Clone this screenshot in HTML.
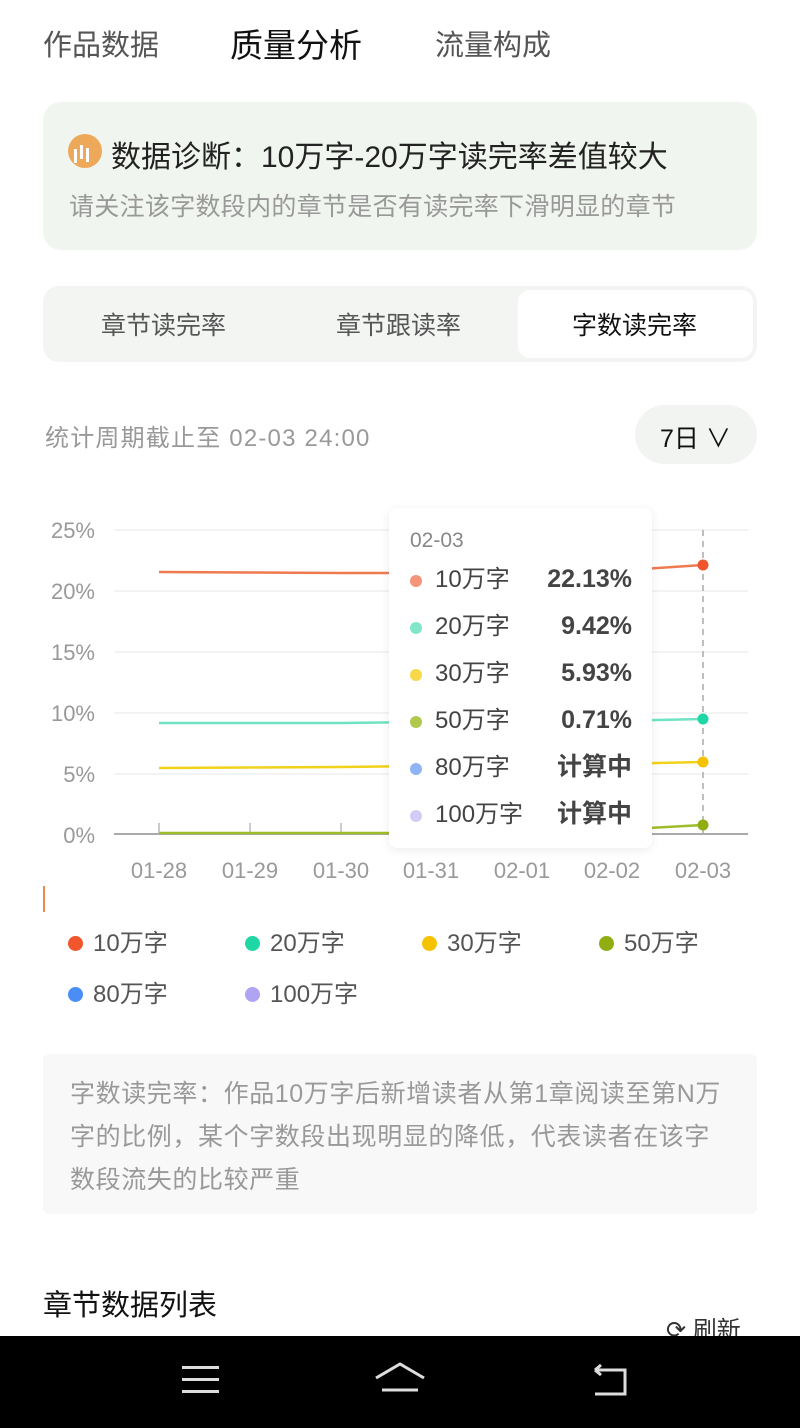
<!DOCTYPE html>
<html><head><meta charset="utf-8"><style>
*{margin:0;padding:0;box-sizing:border-box}
body{width:800px;height:1428px;background:#fff;position:relative;overflow:hidden;font-family:"Liberation Sans","Noto Sans CJK SC",sans-serif}
.a{position:absolute;white-space:nowrap}
</style></head><body>
<div class="a" style="left:43px;top:22px;font-size:29px;color:#555">作品数据</div>
<div class="a" style="left:230px;top:19px;font-size:33px;color:#111">质量分析</div>
<div class="a" style="left:435px;top:22px;font-size:29px;color:#555">流量构成</div>

<div class="a" style="left:43px;top:102px;width:714px;height:148px;background:#f1f5ef;border-radius:18px"></div>
<div class="a" style="left:68px;top:134px;width:34px;height:34px;border-radius:50%;background:#eea85a"></div>
<div class="a" style="left:80px;top:145px;width:3px;height:14px;background:#fff;box-shadow:6px 3px 0 #fff,-6px 4px 0 #fff;"></div>
<div class="a" style="left:111px;top:132px;font-size:30px;color:#222">数据诊断：10万字-20万字读完率差值较大</div>
<div class="a" style="left:69px;top:187px;font-size:25px;letter-spacing:0.3px;color:#999">请关注该字数段内的章节是否有读完率下滑明显的章节</div>

<div class="a" style="left:43px;top:286px;width:714px;height:76px;background:#f3f5f3;border-radius:16px"></div>
<div class="a" style="left:518px;top:290px;width:235px;height:68px;background:#fff;border-radius:12px"></div>
<div class="a" style="left:101px;top:306px;font-size:25px;color:#555">章节读完率</div>
<div class="a" style="left:336px;top:306px;font-size:25px;color:#555">章节跟读率</div>
<div class="a" style="left:572px;top:306px;font-size:25px;color:#111">字数读完率</div>

<div class="a" style="left:45px;top:418px;font-size:24px;letter-spacing:1.2px;color:#999">统计周期截止至 02-03 24:00</div>
<div class="a" style="left:635px;top:405px;width:122px;height:59px;background:#f2f4f2;border-radius:30px"></div>
<div class="a" style="left:660px;top:419px;font-size:25px;color:#111">7日 ∨</div>

<svg class="a" style="left:0;top:500px" width="800" height="400">
<g font-family="Liberation Sans" font-size="22" fill="#999" text-anchor="end">
<text x="95" y="38">25%</text><text x="95" y="99">20%</text><text x="95" y="160">15%</text><text x="95" y="221">10%</text><text x="95" y="282">5%</text><text x="95" y="343">0%</text></g>
<g stroke="#efefef" stroke-width="1.5"><line x1="114" x2="748" y1="30" y2="30"/><line x1="114" x2="748" y1="91" y2="91"/><line x1="114" x2="748" y1="152" y2="152"/><line x1="114" x2="748" y1="213" y2="213"/><line x1="114" x2="748" y1="274" y2="274"/></g>
<line x1="114" x2="748" y1="334" y2="334" stroke="#aaa" stroke-width="2"/>
<g stroke="#bbb" stroke-width="1.5"><line x1="159" x2="159" y1="323" y2="334"/><line x1="250" x2="250" y1="323" y2="334"/><line x1="341" x2="341" y1="323" y2="334"/></g>
<line x1="703" x2="703" y1="30" y2="334" stroke="#aaa" stroke-dasharray="6,5" stroke-width="1.5"/>
<polyline points="159,72 250,72.5 341,73 431,73 522,72 612,71 703,65" fill="none" stroke="#ef7a50" stroke-width="2.5"/>
<polyline points="159,223 250,223 341,223 431,222 522,222 612,221 703,219" fill="none" stroke="#6fe3c3" stroke-width="2.5"/>
<polyline points="159,268 250,267.5 341,267 431,266 522,265 612,264 703,262" fill="none" stroke="#f1d21a" stroke-width="2.5"/>
<polyline points="159,333 250,333 341,333 431,333 522,332 612,330 703,325" fill="none" stroke="#9dbd2a" stroke-width="2.5"/>
<circle cx="703" cy="65" r="5.5" fill="#f0552c"/><circle cx="703" cy="219" r="5.5" fill="#1fd6a5"/><circle cx="703" cy="262" r="5.5" fill="#f5c200"/><circle cx="703" cy="325" r="5.5" fill="#8fae12"/>
<g font-family="Liberation Sans" font-size="22" fill="#999" text-anchor="middle">
<text x="159" y="378">01-28</text><text x="250" y="378">01-29</text><text x="341" y="378">01-30</text><text x="431" y="378">01-31</text><text x="522" y="378">02-01</text><text x="612" y="378">02-02</text><text x="703" y="378">02-03</text></g>
</svg>
<div class="a" style="left:389px;top:508px;width:263px;height:340px;background:#fff;border-radius:8px;box-shadow:0 2px 10px rgba(0,0,0,.08)"></div>
<div class="a" style="left:410px;top:529px;font-size:21px;color:#888">02-03</div>
<div class="a" style="left:410px;top:556px;width:222px;font-size:24px;color:#444;line-height:47px">
<div style="position:relative"><span style="display:inline-block;width:12px;height:12px;border-radius:50%;background:#f4957a;margin-right:13px"></span>10万字<b style="position:absolute;right:0;font-size:25px">22.13%</b></div>
<div style="position:relative"><span style="display:inline-block;width:12px;height:12px;border-radius:50%;background:#82e7c9;margin-right:13px"></span>20万字<b style="position:absolute;right:0;font-size:25px">9.42%</b></div>
<div style="position:relative"><span style="display:inline-block;width:12px;height:12px;border-radius:50%;background:#f8d84a;margin-right:13px"></span>30万字<b style="position:absolute;right:0;font-size:25px">5.93%</b></div>
<div style="position:relative"><span style="display:inline-block;width:12px;height:12px;border-radius:50%;background:#aec94b;margin-right:13px"></span>50万字<b style="position:absolute;right:0;font-size:25px">0.71%</b></div>
<div style="position:relative"><span style="display:inline-block;width:12px;height:12px;border-radius:50%;background:#8fb3f4;margin-right:13px"></span>80万字<b style="position:absolute;right:0;font-size:25px">计算中</b></div>
<div style="position:relative"><span style="display:inline-block;width:12px;height:12px;border-radius:50%;background:#d3cdf6;margin-right:13px"></span>100万字<b style="position:absolute;right:0;font-size:25px">计算中</b></div>
</div>
<div class="a" style="left:43px;top:886px;width:2px;height:26px;background:#f0884a"></div>

<div class="a" style="left:68px;top:928px;font-size:24px;color:#555;line-height:32px">
<span style="position:absolute;left:0;top:0;white-space:nowrap"><i style="display:inline-block;width:15px;height:15px;border-radius:50%;background:#f0552c;margin-right:10px"></i>10万字</span>
<span style="position:absolute;left:177px;top:0;white-space:nowrap"><i style="display:inline-block;width:15px;height:15px;border-radius:50%;background:#1fd6a5;margin-right:10px"></i>20万字</span>
<span style="position:absolute;left:354px;top:0;white-space:nowrap"><i style="display:inline-block;width:15px;height:15px;border-radius:50%;background:#f5c200;margin-right:10px"></i>30万字</span>
<span style="position:absolute;left:531px;top:0;white-space:nowrap"><i style="display:inline-block;width:15px;height:15px;border-radius:50%;background:#8fae12;margin-right:10px"></i>50万字</span>
<span style="position:absolute;left:0;top:51px;white-space:nowrap"><i style="display:inline-block;width:15px;height:15px;border-radius:50%;background:#4a8ef5;margin-right:10px"></i>80万字</span>
<span style="position:absolute;left:177px;top:51px;white-space:nowrap"><i style="display:inline-block;width:15px;height:15px;border-radius:50%;background:#aea4f2;margin-right:10px"></i>100万字</span>
</div>

<div class="a" style="left:43px;top:1054px;width:714px;height:160px;background:#f7f8f7;border-radius:6px"></div>
<div class="a" style="left:70px;top:1073px;font-size:25px;letter-spacing:0.6px;color:#999;line-height:43px">字数读完率：作品10万字后新增读者从第1章阅读至第N万<br>字的比例，某个字数段出现明显的降低，代表读者在该字<br>数段流失的比较严重</div>

<div class="a" style="left:43px;top:1282px;font-size:29px;color:#111">章节数据列表</div>
<div class="a" style="left:666px;top:1310px;font-size:24px;color:#333">⟳ 刷新</div>

<div class="a" style="left:0;top:1336px;width:800px;height:92px;background:#000"></div>
<div class="a" style="left:182px;top:1366px;width:37px;height:3px;background:#ddd;box-shadow:0 12px 0 #ddd,0 24px 0 #ddd"></div>
<svg class="a" style="left:370px;top:1360px" width="60" height="40"><path d="M6 18 L30 4 L54 18 M12 30 H48" fill="none" stroke="#ddd" stroke-width="3"/></svg>
<svg class="a" style="left:585px;top:1362px" width="50" height="40"><path d="M10 8 H40 V32 H10 M10 8 l6 -5 M10 8 l6 5" fill="none" stroke="#ddd" stroke-width="3"/></svg>
</body></html>
